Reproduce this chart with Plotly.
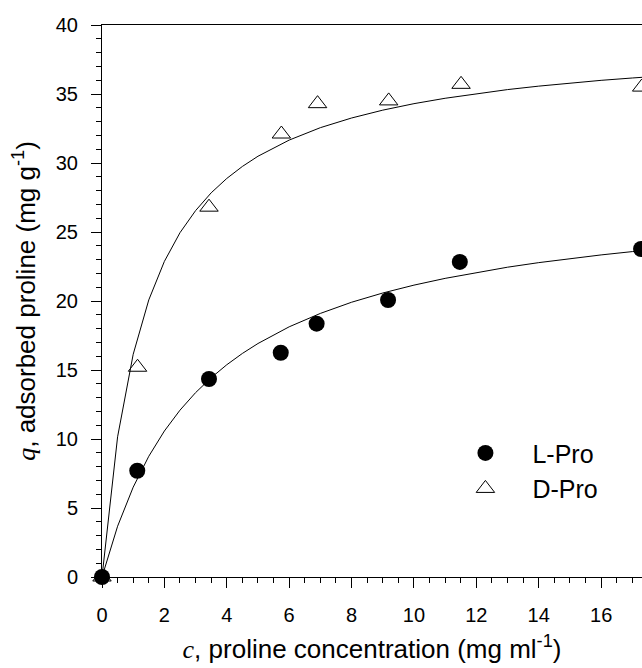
import plotly.graph_objects as go

# Measured data points
l_c = [0, 1.13, 3.43, 5.73, 6.88, 9.17, 11.47, 17.28]
l_q = [0, 7.7, 14.35, 16.25, 18.36, 20.07, 22.83, 23.77]
d_c = [0, 1.14, 3.43, 5.75, 6.91, 9.19, 11.51, 17.3]
d_q = [0, 15.2, 26.8, 32.1, 34.3, 34.5, 35.7, 35.5]

# Fitted curves
curve_c = [0, 0.5, 1, 1.5, 2, 2.5, 3, 3.5, 4, 4.5, 5, 6, 7, 8, 9, 10, 11, 12, 13, 14, 15, 16, 17, 17.5]
l_fit = [0, 3.68, 6.51, 8.75, 10.58, 12.09, 13.36, 14.44, 15.38, 16.20, 16.92, 18.13, 19.10, 19.91,
         20.58, 21.15, 21.64, 22.07, 22.45, 22.78, 23.07, 23.34, 23.58, 23.69]
d_fit = [0, 10.16, 16.14, 20.08, 22.87, 24.95, 26.55, 27.84, 28.88, 29.75, 30.49, 31.66, 32.56, 33.26,
         33.83, 34.30, 34.69, 35.03, 35.32, 35.57, 35.79, 35.99, 36.16, 36.24]

x_ticks = [0, 2, 4, 6, 8, 10, 12, 14, 16]
y_ticks = [0, 5, 10, 15, 20, 25, 30, 35, 40]

SANS = "Liberation Sans, Arial, sans-serif"

fig = go.Figure()
fig.add_trace(go.Scatter(x=curve_c, y=d_fit, mode="lines", line=dict(color="black", width=1),
                         showlegend=False, hoverinfo="skip"))
fig.add_trace(go.Scatter(x=curve_c, y=l_fit, mode="lines", line=dict(color="black", width=1),
                         showlegend=False, hoverinfo="skip"))
fig.add_trace(go.Scatter(x=l_c, y=l_q, mode="markers", name="L-Pro", cliponaxis=False,
                         marker=dict(symbol="circle", size=16, color="black", line=dict(width=0))))
fig.add_trace(go.Scatter(x=d_c, y=d_q, mode="markers", name="D-Pro", cliponaxis=False,
                         marker=dict(symbol="triangle-up-open", size=16, color="black",
                                     line=dict(width=1, color="black"))))

fig.update_layout(
    width=642, height=668,
    margin=dict(l=102, r=0, t=25, b=91, autoexpand=False),
    plot_bgcolor="white", paper_bgcolor="white",
    font=dict(family=SANS, color="black", size=20),
    legend=dict(x=0.623, y=0.266, xanchor="left", yanchor="top", bgcolor="rgba(0,0,0,0)",
                font=dict(size=25, family=SANS), itemwidth=84, tracegroupgap=0),
    xaxis=dict(
        range=[0, 17.31], tickvals=x_ticks, ticktext=[str(v) for v in x_ticks],
        ticks="outside", ticklen=10, tickwidth=1, tickcolor="black",
        showline=True, linecolor="black", linewidth=1, mirror=True,
        showgrid=False, zeroline=False, ticklabelstandoff=10,
        tickfont=dict(size=20, family=SANS),
        minor=dict(dtick=0.5, ticks="outside", ticklen=5, tickwidth=1, tickcolor="black"),
        title=dict(text="<span style='font-family:Liberation Serif'><i>c</i></span>, proline concentration (mg ml<sup>-1</sup>)",
                   font=dict(size=26, family=SANS), standoff=14),
        automargin=False,
    ),
    yaxis=dict(
        range=[0, 40], tickvals=y_ticks, ticktext=[str(v) for v in y_ticks],
        ticks="outside", ticklen=10, tickwidth=1, tickcolor="black",
        showline=True, linecolor="black", linewidth=1,
        showgrid=False, zeroline=False, ticklabelstandoff=9,
        tickfont=dict(size=20, family=SANS),
        minor=dict(dtick=1, ticks="outside", ticklen=5, tickwidth=1, tickcolor="black"),
        title=dict(text="<span style='font-family:Liberation Serif'><i>q</i></span>, adsorbed proline (mg g<sup>-1</sup>)",
                   font=dict(size=26, family=SANS), standoff=12),
        automargin=False,
    ),
)

fig.write_html("out.html", config={"displayModeBar": False},
               post_script="document.body.style.margin='0px';document.body.style.overflow='hidden';")
